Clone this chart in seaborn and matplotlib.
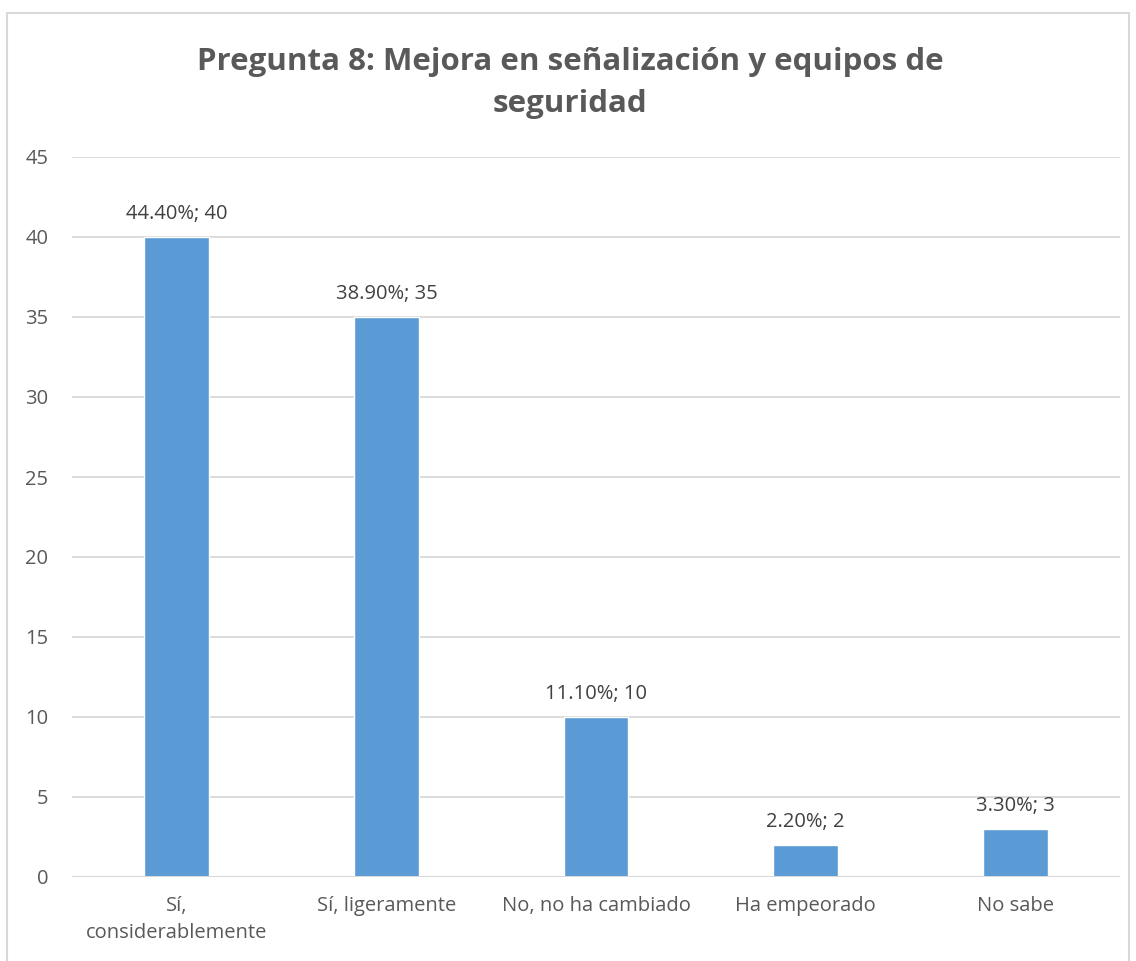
import matplotlib
matplotlib.use("Agg")
import matplotlib.pyplot as plt
import seaborn as sns
import pandas as pd
from matplotlib.patches import Rectangle

categories = ["Sí,\nconsiderablemente", "Sí, ligeramente", "No, no ha cambiado", "Ha empeorado", "No sabe"]
counts = [40, 35, 10, 2, 3]
percents = ["44.40%", "38.90%", "11.10%", "2.20%", "3.30%"]
yticks = [0, 5, 10, 15, 20, 25, 30, 35, 40, 45]
title = "Pregunta 8: Mejora en señalización y equipos de\nseguridad"

sns.set_theme(style="white")
plt.rcParams['font.family'] = ['Open Sans', 'DejaVu Sans']

df = pd.DataFrame({"cat": categories, "count": counts})

fig = plt.figure(figsize=(11.36, 9.61), dpi=100)
ax = fig.add_axes([72/1136, 1-877/961, (1120-72)/1136, (877-157)/961])

sns.barplot(data=df, x="cat", y="count", color="#5B9BD5", width=0.31, ax=ax, saturation=1, zorder=3)

ax.set_ylim(0, 45)
ax.set_yticks(yticks)
ax.set_xlim(-0.5, len(categories) - 0.5)
ax.yaxis.grid(True, color="#D9D9D9", linewidth=1.3, zorder=0)
ax.set_axisbelow(True)
for s in ax.spines.values():
    s.set_visible(False)
ax.axhline(0, color="#D9D9D9", linewidth=1.5, zorder=4)
ax.set_xlabel("")
ax.set_ylabel("")
ax.tick_params(axis="y", labelsize=14.5, labelcolor="#595959", length=0, pad=17)
ax.tick_params(axis="x", labelsize=14.5, labelcolor="#595959", length=0, pad=14)
for lab in ax.get_yticklabels():
    lab.set_horizontalalignment("right")
for lab in ax.get_xticklabels():
    lab.set_linespacing(1.45)

for i, (c, p) in enumerate(zip(counts, percents)):
    ax.annotate(f"{p}; {c}", (i, c), xytext=(0, 9), textcoords="offset points",
                ha="center", va="bottom", fontsize=14.5, color="#404040")

fig.text(0.502, 1-83/961, title, ha="center", va="center", fontsize=22.5,
         fontweight="bold", color="#595959", linespacing=1.5)

fig.patches.append(Rectangle((7/1136, -0.05), (1129-7)/1136, 1.05-13/961,
                             transform=fig.transFigure, fill=False,
                             edgecolor="#D9D9D9", linewidth=1.5))

fig.savefig("out.png", dpi=100, facecolor="white")
